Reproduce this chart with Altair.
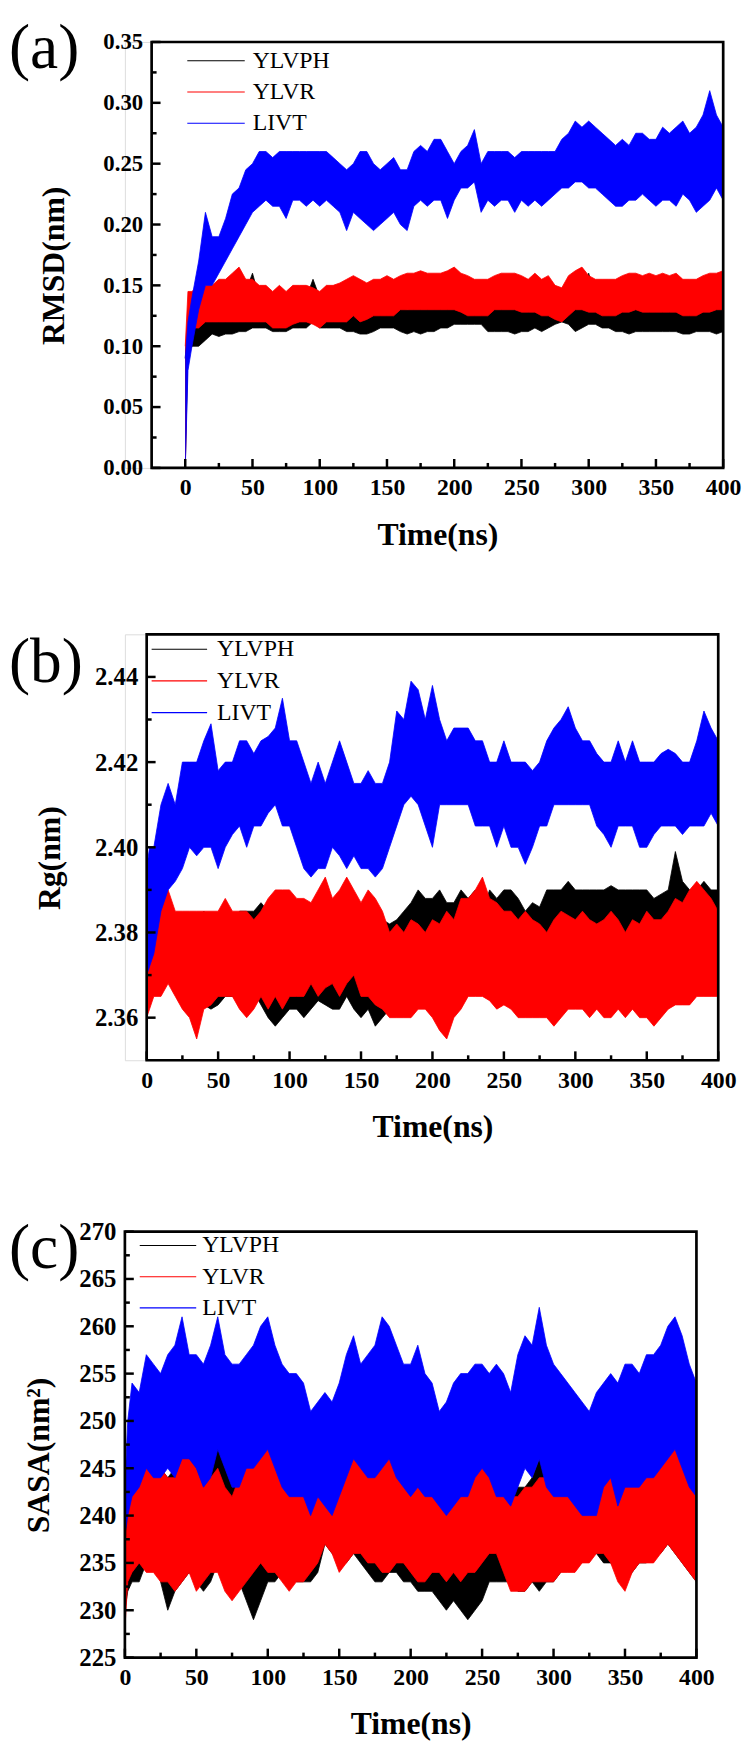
import altair as alt
import pandas as pd

TIME = [0, 2] + list(range(5, 401, 5))
SERIES = ["YLVPH", "YLVR", "LIVT"]
COLORS = ["#000000", "#ff0000", "#0000ff"]
FONT = "Liberation Serif"

# ---------------- (a) RMSD (nm): lower / upper envelope of each trace ----------------
RMSD_YLVPH_LO = [0.0, 0.095, 0.10, 0.10, 0.105, 0.11, 0.108, 0.11, 0.11, 0.112,
                 0.112, 0.115, 0.115, 0.115, 0.112, 0.112, 0.112, 0.115, 0.115, 0.115,
                 0.12, 0.115, 0.115, 0.115, 0.115, 0.112, 0.112, 0.11, 0.11, 0.112,
                 0.115, 0.115, 0.115, 0.112, 0.11, 0.112, 0.11, 0.112, 0.112, 0.115,
                 0.115, 0.118, 0.118, 0.118, 0.118, 0.118, 0.112, 0.112, 0.112, 0.112,
                 0.11, 0.112, 0.112, 0.115, 0.112, 0.115, 0.118, 0.12, 0.118, 0.112,
                 0.115, 0.118, 0.118, 0.115, 0.115, 0.112, 0.112, 0.11, 0.112, 0.112,
                 0.112, 0.112, 0.112, 0.112, 0.112, 0.11, 0.11, 0.112, 0.112, 0.112,
                 0.11, 0.112]
RMSD_YLVPH_HI = [0.09, 0.125, 0.13, 0.13, 0.135, 0.135, 0.135, 0.14, 0.14, 0.14,
                 0.145, 0.16, 0.14, 0.14, 0.138, 0.138, 0.138, 0.14, 0.14, 0.14,
                 0.155, 0.14, 0.135, 0.135, 0.13, 0.13, 0.13, 0.13, 0.13, 0.13,
                 0.13, 0.135, 0.135, 0.132, 0.13, 0.132, 0.135, 0.138, 0.138, 0.14,
                 0.14, 0.14, 0.138, 0.135, 0.135, 0.135, 0.132, 0.132, 0.133, 0.132,
                 0.132, 0.13, 0.132, 0.132, 0.13, 0.135, 0.14, 0.14, 0.14, 0.14,
                 0.145, 0.16, 0.14, 0.138, 0.135, 0.132, 0.132, 0.132, 0.135, 0.135,
                 0.132, 0.132, 0.132, 0.132, 0.132, 0.132, 0.13, 0.132, 0.13, 0.13,
                 0.132, 0.135]
RMSD_YLVR_LO = [0.0, 0.11, 0.115, 0.115, 0.12, 0.12, 0.12, 0.12, 0.12, 0.12,
                0.12, 0.12, 0.12, 0.12, 0.115, 0.115, 0.115, 0.118, 0.12, 0.12,
                0.118, 0.115, 0.12, 0.12, 0.12, 0.12, 0.125, 0.12, 0.122, 0.125,
                0.125, 0.125, 0.125, 0.13, 0.13, 0.13, 0.13, 0.13, 0.13, 0.13,
                0.13, 0.13, 0.128, 0.125, 0.125, 0.125, 0.125, 0.13, 0.13, 0.13,
                0.13, 0.128, 0.128, 0.128, 0.125, 0.125, 0.122, 0.12, 0.125, 0.13,
                0.13, 0.128, 0.128, 0.125, 0.125, 0.125, 0.128, 0.128, 0.13, 0.128,
                0.128, 0.128, 0.128, 0.128, 0.128, 0.125, 0.125, 0.125, 0.128, 0.128,
                0.13, 0.13]
RMSD_YLVR_HI = [0.10, 0.145, 0.145, 0.15, 0.15, 0.15, 0.155, 0.155, 0.16, 0.165,
                0.155, 0.155, 0.15, 0.15, 0.145, 0.15, 0.145, 0.15, 0.15, 0.15,
                0.148, 0.145, 0.15, 0.15, 0.152, 0.155, 0.158, 0.155, 0.152, 0.155,
                0.155, 0.158, 0.155, 0.158, 0.16, 0.16, 0.162, 0.16, 0.16, 0.16,
                0.162, 0.165, 0.16, 0.158, 0.155, 0.155, 0.155, 0.158, 0.16, 0.16,
                0.16, 0.158, 0.155, 0.16, 0.155, 0.158, 0.15, 0.148, 0.158, 0.162,
                0.165, 0.158, 0.155, 0.155, 0.155, 0.155, 0.158, 0.16, 0.16, 0.158,
                0.16, 0.158, 0.16, 0.158, 0.16, 0.155, 0.155, 0.155, 0.158, 0.16,
                0.16, 0.162]
RMSD_LIVT_LO = [0.0, 0.08, 0.10, 0.13, 0.15, 0.15, 0.16, 0.17, 0.18, 0.19,
                0.20, 0.21, 0.215, 0.22, 0.215, 0.215, 0.205, 0.22, 0.22, 0.215,
                0.22, 0.215, 0.22, 0.215, 0.21, 0.195, 0.21, 0.205, 0.20, 0.195,
                0.20, 0.205, 0.21, 0.20, 0.195, 0.215, 0.22, 0.215, 0.22, 0.22,
                0.205, 0.22, 0.23, 0.23, 0.235, 0.21, 0.22, 0.215, 0.22, 0.22,
                0.21, 0.22, 0.215, 0.22, 0.215, 0.22, 0.225, 0.23, 0.23, 0.235,
                0.235, 0.23, 0.23, 0.225, 0.22, 0.215, 0.215, 0.22, 0.22, 0.225,
                0.22, 0.215, 0.22, 0.22, 0.215, 0.225, 0.22, 0.21, 0.215, 0.22,
                0.23, 0.22]
RMSD_LIVT_HI = [0.09, 0.12, 0.14, 0.17, 0.21, 0.19, 0.19, 0.205, 0.225, 0.23,
                0.245, 0.25, 0.26, 0.26, 0.255, 0.26, 0.26, 0.26, 0.26, 0.26,
                0.26, 0.26, 0.26, 0.255, 0.25, 0.245, 0.25, 0.26, 0.26, 0.25,
                0.245, 0.25, 0.255, 0.245, 0.245, 0.26, 0.265, 0.26, 0.27, 0.27,
                0.26, 0.25, 0.26, 0.265, 0.278, 0.25, 0.26, 0.26, 0.26, 0.26,
                0.255, 0.26, 0.26, 0.26, 0.26, 0.26, 0.26, 0.27, 0.275, 0.285,
                0.28, 0.285, 0.28, 0.275, 0.27, 0.265, 0.27, 0.265, 0.275, 0.275,
                0.27, 0.27, 0.28, 0.275, 0.28, 0.285, 0.275, 0.28, 0.29, 0.31,
                0.29, 0.28]

# ---------------- (b) Rg (nm) ----------------
RG_YLVPH_LO = [2.365, 2.366, 2.368, 2.37, 2.37, 2.368, 2.365, 2.362, 2.362, 2.363,
               2.362, 2.363, 2.365, 2.365, 2.364, 2.365, 2.366, 2.363, 2.36, 2.358,
               2.36, 2.362, 2.362, 2.36, 2.362, 2.364, 2.363, 2.362, 2.362, 2.365,
               2.362, 2.36, 2.362, 2.358, 2.36, 2.362, 2.364, 2.365, 2.366, 2.366,
               2.367, 2.368, 2.368, 2.366, 2.368, 2.37, 2.37, 2.368, 2.366, 2.368,
               2.366, 2.367, 2.368, 2.366, 2.364, 2.365, 2.366, 2.368, 2.368, 2.366,
               2.366, 2.368, 2.37, 2.37, 2.37, 2.37, 2.37, 2.37, 2.368, 2.37,
               2.37, 2.37, 2.37, 2.37, 2.372, 2.373, 2.372, 2.37, 2.37, 2.368,
               2.368, 2.368]
RG_YLVPH_HI = [2.39, 2.387, 2.385, 2.385, 2.385, 2.382, 2.38, 2.38, 2.382, 2.385,
               2.383, 2.382, 2.382, 2.383, 2.385, 2.385, 2.385, 2.387, 2.385, 2.38,
               2.378, 2.38, 2.38, 2.378, 2.38, 2.383, 2.38, 2.382, 2.385, 2.385,
               2.384, 2.385, 2.385, 2.383, 2.383, 2.382, 2.383, 2.385, 2.387, 2.39,
               2.388, 2.388, 2.39, 2.387, 2.387, 2.39, 2.388, 2.39, 2.385, 2.39,
               2.388, 2.39, 2.39, 2.388, 2.385, 2.387, 2.386, 2.39, 2.39, 2.39,
               2.392, 2.39, 2.39, 2.39, 2.39, 2.39, 2.391, 2.39, 2.39, 2.39,
               2.39, 2.39, 2.388, 2.389, 2.39, 2.399, 2.392, 2.39, 2.39, 2.392,
               2.39, 2.39]
RG_YLVR_LO = [2.36, 2.362, 2.365, 2.365, 2.368, 2.365, 2.362, 2.36, 2.355, 2.362,
              2.363, 2.365, 2.365, 2.365, 2.362, 2.36, 2.362, 2.365, 2.362, 2.365,
              2.362, 2.365, 2.365, 2.365, 2.368, 2.365, 2.367, 2.368, 2.365, 2.368,
              2.37, 2.365, 2.365, 2.363, 2.362, 2.36, 2.36, 2.36, 2.36, 2.362,
              2.362, 2.36, 2.357, 2.355, 2.36, 2.362, 2.365, 2.365, 2.365, 2.364,
              2.362, 2.363, 2.362, 2.36, 2.36, 2.36, 2.36, 2.36, 2.358, 2.36,
              2.362, 2.362, 2.362, 2.36, 2.362, 2.36, 2.36, 2.362, 2.36, 2.362,
              2.36, 2.36, 2.358, 2.36, 2.362, 2.363, 2.363, 2.363, 2.365, 2.365,
              2.365, 2.365]
RG_YLVR_HI = [2.38, 2.383, 2.385, 2.388, 2.39, 2.385, 2.385, 2.385, 2.385, 2.385,
              2.385, 2.385, 2.388, 2.385, 2.385, 2.385, 2.383, 2.385, 2.388, 2.39,
              2.39, 2.39, 2.388, 2.388, 2.387, 2.39, 2.393, 2.388, 2.39, 2.393,
              2.39, 2.387, 2.39, 2.388, 2.385, 2.38, 2.382, 2.38, 2.383, 2.382,
              2.38, 2.383, 2.382, 2.385, 2.383, 2.388, 2.388, 2.39, 2.393, 2.388,
              2.387, 2.385, 2.385, 2.383, 2.385, 2.383, 2.382, 2.38, 2.383, 2.385,
              2.384, 2.383, 2.385, 2.383, 2.382, 2.383, 2.385, 2.383, 2.38, 2.383,
              2.382, 2.385, 2.383, 2.383, 2.385, 2.388, 2.387, 2.39, 2.392, 2.39,
              2.388, 2.385]
RG_LIVT_LO = [2.37, 2.372, 2.375, 2.385, 2.39, 2.392, 2.395, 2.40, 2.398, 2.40,
              2.40, 2.395, 2.40, 2.403, 2.405, 2.40, 2.405, 2.405, 2.408, 2.41,
              2.405, 2.405, 2.40, 2.395, 2.393, 2.395, 2.395, 2.40, 2.398, 2.395,
              2.398, 2.395, 2.395, 2.393, 2.395, 2.40, 2.405, 2.41, 2.412, 2.41,
              2.405, 2.40, 2.41, 2.41, 2.41, 2.41, 2.41, 2.405, 2.405, 2.405,
              2.40, 2.405, 2.40, 2.40, 2.396, 2.40, 2.405, 2.405, 2.41, 2.41,
              2.41, 2.41, 2.41, 2.41, 2.405, 2.403, 2.40, 2.405, 2.405, 2.405,
              2.40, 2.40, 2.403, 2.405, 2.405, 2.405, 2.403, 2.405, 2.405, 2.405,
              2.408, 2.405]
RG_LIVT_HI = [2.395, 2.40, 2.40, 2.41, 2.415, 2.41, 2.42, 2.42, 2.42, 2.425,
              2.429, 2.418, 2.42, 2.42, 2.425, 2.425, 2.422, 2.425, 2.426, 2.428,
              2.435, 2.425, 2.425, 2.42, 2.415, 2.42, 2.415, 2.42, 2.425, 2.42,
              2.415, 2.415, 2.418, 2.415, 2.415, 2.42, 2.432, 2.43, 2.439, 2.437,
              2.43, 2.438, 2.43, 2.425, 2.428, 2.428, 2.428, 2.425, 2.425, 2.42,
              2.42, 2.425, 2.42, 2.42, 2.42, 2.418, 2.42, 2.425, 2.428, 2.43,
              2.433, 2.428, 2.425, 2.425, 2.422, 2.42, 2.42, 2.425, 2.42, 2.425,
              2.42, 2.42, 2.42, 2.422, 2.423, 2.422, 2.42, 2.42, 2.425, 2.432,
              2.428, 2.425]

# ---------------- (c) SASA (nm^2) ----------------
SASA_YLVPH_LO = [230, 232, 233, 233, 235, 236, 233, 230, 232, 233,
                 234, 233, 232, 233, 235, 234, 233, 233, 231, 229,
                 231, 233, 233, 234, 234, 233, 233, 233, 234, 237,
                 236, 235, 235, 236, 235, 234, 233, 233, 234, 234,
                 233, 233, 232, 232, 232, 231, 230, 231, 230, 229,
                 230, 231, 233, 233, 233, 233, 232, 232, 233, 232,
                 233, 233, 234, 235, 235, 235, 236, 236, 235, 235,
                 234, 233, 234, 235, 235, 236, 236, 237, 236, 235,
                 234, 233]
SASA_YLVPH_HI = [238, 241, 243, 245, 246, 247, 245, 244, 245, 247,
                 249, 247, 245, 246, 250, 246, 245, 247, 246, 245,
                 246, 247, 246, 245, 244, 245, 244, 243, 243, 245,
                 246, 245, 246, 248, 247, 246, 246, 246, 248, 246,
                 245, 245, 244, 244, 244, 245, 244, 244, 243, 244,
                 244, 245, 246, 245, 243, 243, 243, 243, 244, 246,
                 244, 245, 246, 246, 246, 246, 247, 248, 247, 246,
                 245, 245, 246, 246, 246, 247, 248, 248, 247, 246,
                 245, 244]
SASA_YLVR_LO = [228, 233, 234, 235, 234, 234, 233, 233, 232, 233,
                234, 232, 233, 234, 234, 232, 231, 232, 233, 234,
                235, 234, 234, 233, 232, 233, 233, 234, 235, 237,
                236, 234, 235, 236, 236, 235, 235, 234, 234, 235,
                235, 234, 233, 233, 234, 234, 233, 234, 233, 234,
                234, 235, 236, 236, 234, 232, 232, 232, 233, 233,
                233, 233, 234, 234, 234, 235, 235, 236, 236, 235,
                233, 232, 234, 235, 235, 235, 236, 237, 236, 235,
                234, 233]
SASA_YLVR_HI = [236, 240, 244, 246, 247, 246, 245, 244, 244, 246,
                246, 245, 243, 244, 245, 243, 242, 244, 245, 247,
                248, 247, 246, 245, 244, 245, 244, 243, 243, 245,
                246, 246, 246, 249, 247, 245, 245, 246, 246, 245,
                244, 244, 243, 244, 244, 245, 244, 244, 244, 245,
                245, 246, 246, 245, 243, 242, 242, 243, 243, 244,
                244, 244, 245, 245, 245, 246, 247, 245, 244, 245,
                245, 245, 246, 246, 246, 247, 247, 248, 247, 246,
                245, 244]
SASA_LIVT_LO = [238, 240, 242, 243, 245, 244, 244, 245, 244, 246,
                246, 245, 243, 244, 247, 245, 243, 243, 245, 245,
                246, 247, 245, 243, 242, 242, 242, 240, 242, 241,
                240, 242, 244, 246, 245, 244, 244, 245, 246, 244,
                243, 242, 243, 242, 242, 241, 240, 241, 242, 242,
                244, 245, 244, 242, 242, 241, 243, 245, 244, 246,
                243, 242, 242, 242, 241, 240, 240, 240, 243, 244,
                241, 243, 243, 243, 244, 244, 245, 246, 247, 245,
                243, 242]
SASA_LIVT_HI = [243, 250, 254, 253, 257, 256, 255, 257, 258, 261,
                257, 257, 256, 258, 261, 257, 256, 256, 257, 258,
                260, 261, 258, 256, 255, 255, 254, 251, 252, 253,
                252, 254, 257, 259, 256, 257, 258, 261, 260, 258,
                256, 256, 258, 255, 254, 251, 252, 254, 255, 255,
                256, 256, 255, 256, 255, 253, 257, 259, 258, 262,
                258, 256, 255, 254, 253, 252, 251, 253, 254, 255,
                254, 256, 256, 255, 257, 257, 258, 260, 261, 259,
                256, 254]

# ---------------- axis ticks ----------------
X_MAJOR = [0, 50, 100, 150, 200, 250, 300, 350, 400]
X_MINOR = [25, 75, 125, 175, 225, 275, 325, 375]
RMSD_MAJOR = [0.00, 0.05, 0.10, 0.15, 0.20, 0.25, 0.30, 0.35]
RMSD_MINOR = [0.025, 0.075, 0.125, 0.175, 0.225, 0.275, 0.325]
RG_MAJOR = [2.36, 2.38, 2.40, 2.42, 2.44]
RG_MINOR = [2.37, 2.39, 2.41, 2.43]
SASA_MAJOR = [225, 230, 235, 240, 245, 250, 255, 260, 265, 270]
SASA_MINOR = [227.5, 232.5, 237.5, 242.5, 247.5, 252.5, 257.5, 262.5, 267.5]

PLOT_W = 577
H = 430


def band_frame(bands):
    rows = []
    for name, (lo, hi) in zip(SERIES, bands):
        assert len(lo) == len(TIME) and len(hi) == len(TIME), name
        for t, a, b in zip(TIME, lo, hi):
            rows.append({"t": t, "lo": a, "hi": b, "series": name})
    return pd.DataFrame(rows)


def panel(df, off, xdom, ydom, ymajor, yminor, yfmt, ytitle, ylab_size, label, label_y,
          ytitle_x, leg_x, leg_y0, leg_dy, leg_len, leg_gap):
    # all panels share one view origin; the frame of this panel starts `off` px to its right
    right = off + PLOT_W
    xs = alt.Scale(domain=xdom, range=[off, right], nice=False, zero=False)
    ys = alt.Scale(domain=ydom, nice=False, zero=False)
    common = dict(ticks=False, domain=False, grid=False, labelFlush=False, labelOverlap=False,
                  labelFont=FONT, labelFontWeight="bold", labelColor="black",
                  titleFont=FONT, titleFontWeight="bold", titleFontSize=32, titleColor="black")
    xaxis = alt.Axis(values=X_MAJOR, format="d", title="Time(ns)", labelFontSize=24,
                     labelPadding=8, titlePadding=20, titleX=(off + right) / 2, **common)
    yaxis = alt.Axis(values=ymajor, format=yfmt, title=None, labelFontSize=ylab_size,
                     labelPadding=9, offset=-off, **common)

    def X(f):
        return alt.X(f, type="quantitative", scale=xs, axis=xaxis)

    def Y(f):
        return alt.Y(f, type="quantitative", scale=ys, axis=yaxis)

    layers = []
    for name, col in zip(SERIES, COLORS):
        base = alt.Chart(df).transform_filter(alt.datum.series == name)
        layers.append(base.mark_area(color=col, opacity=1, strokeWidth=0)
                      .encode(x=X("t"), y=Y("lo"), y2="hi"))
        layers.append(base.mark_line(color=col, strokeWidth=0.8).encode(x=X("t"), y=Y("hi")))
        layers.append(base.mark_line(color=col, strokeWidth=0.8).encode(x=X("t"), y=Y("lo")))

    # inward ticks
    for vals, ln in ((ymajor, 9), (yminor, 5)):
        layers.append(alt.Chart(pd.DataFrame({"v": vals})).mark_rule(color="black", strokeWidth=2.5)
                      .encode(y=Y("v"), x=alt.value(off), x2=alt.value(off + ln)))
    for vals, ln in ((X_MAJOR, 9), (X_MINOR, 5)):
        layers.append(alt.Chart(pd.DataFrame({"v": vals})).mark_rule(color="black", strokeWidth=2.5)
                      .encode(x=X("v"), y=alt.value(H), y2=alt.value(H - ln)))

    # frame
    layers.append(alt.Chart(pd.DataFrame({"f": [0]})).mark_rect(filled=False, color="black", strokeWidth=2.7)
                  .encode(x=alt.value(off), x2=alt.value(right), y=alt.value(0), y2=alt.value(H)))

    # legend
    for i, (name, col) in enumerate(zip(SERIES, COLORS)):
        yy = leg_y0 + i * leg_dy
        src = alt.Chart(pd.DataFrame({"series": [name]}))
        layers.append(src.mark_rule(color=col, strokeWidth=1.1)
                      .encode(x=alt.value(off + leg_x), x2=alt.value(off + leg_x + leg_len), y=alt.value(yy)))
        layers.append(src.mark_text(align="left", baseline="middle", font=FONT, fontSize=24, color="black")
                      .encode(x=alt.value(off + leg_x + leg_len + leg_gap), y=alt.value(yy), text="series:N"))

    # y-axis title (rotated)
    layers.append(alt.Chart(pd.DataFrame({"tt": [ytitle]}))
                  .mark_text(angle=270, align="center", baseline="middle", font=FONT, fontSize=32,
                             fontWeight="bold", color="black")
                  .encode(x=alt.value(ytitle_x), y=alt.value(H / 2 + 11), text="tt:N"))

    # panel label
    layers.append(alt.Chart(pd.DataFrame({"lab": [label]}))
                  .mark_text(align="left", baseline="top", font=FONT, fontSize=64, color="black")
                  .encode(x=alt.value(-117), y=alt.value(label_y), text="lab:N"))

    return alt.layer(*layers).properties(width=right, height=H)


pa = panel(band_frame([(RMSD_YLVPH_LO, RMSD_YLVPH_HI), (RMSD_YLVR_LO, RMSD_YLVR_HI), (RMSD_LIVT_LO, RMSD_LIVT_HI)]),
           27, [-25, 400], [0, 0.35], RMSD_MAJOR, RMSD_MINOR, ".2f", "RMSD(nm)", 23, "(a)", -25,
           -71, 36, 19, 31.5, 58, 8)
pb = panel(band_frame([(RG_YLVPH_LO, RG_YLVPH_HI), (RG_YLVR_LO, RG_YLVR_HI), (RG_LIVT_LO, RG_LIVT_HI)]),
           22, [0, 400], [2.35, 2.45], RG_MAJOR, RG_MINOR, ".2f", "Rg(nm)", 25, "(b)", -3,
           -76, 5, 15, 32, 56, 10)
pc = panel(band_frame([(SASA_YLVPH_LO, SASA_YLVPH_HI), (SASA_YLVR_LO, SASA_YLVR_HI), (SASA_LIVT_LO, SASA_LIVT_HI)]),
           0, [0, 400], [225, 270], SASA_MAJOR, SASA_MINOR, "d", "SASA(nm\u00b2)", 25, "(c)", -14,
           -87, 15, 14, 31.5, 57, 6)

chart = (alt.vconcat(alt.vconcat(pa, pb, spacing=80), pc, spacing=74)
         .properties(padding={"left": 0, "top": 0, "right": 0, "bottom": 0})
         .configure_view(strokeWidth=0)
         .configure(background="white"))

chart.save("out.html", embed_options={"renderer": "svg", "actions": False})
